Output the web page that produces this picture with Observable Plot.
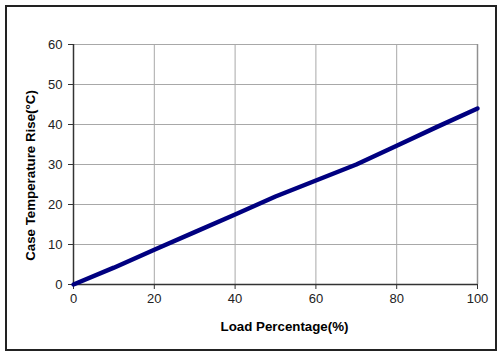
<!DOCTYPE html>
<html><head><meta charset="utf-8">
<script src="https://cdn.jsdelivr.net/npm/d3@7"></script>
<script src="https://cdn.jsdelivr.net/npm/@observablehq/plot@0.6"></script>
<style>
html,body{margin:0;padding:0;background:#fff;}
#wrap{position:relative;width:502px;height:354px;}
#border{position:absolute;left:5px;top:5px;width:492px;height:346px;border:2px solid #222;box-sizing:border-box;}
</style></head>
<body><div id="wrap"><div id="border"></div></div>
<script>
const loadPct = [0, 10, 20, 30, 40, 50, 60, 70, 80, 90, 100];
const tempRise = [0, 4.2, 8.7, 13.1, 17.5, 22, 26, 30, 34.7, 39.4, 44];
const xTicks = [0, 20, 40, 60, 80, 100];
const yTicks = [0, 10, 20, 30, 40, 50, 60];
const data = loadPct.map((x, i) => ({x, y: tempRise[i]}));

const chart = Plot.plot({
  width: 502, height: 354,
  marginLeft: 73, marginRight: 25, marginTop: 44, marginBottom: 70,
  style: {fontFamily: "Liberation Sans, Arial, sans-serif", fontSize: "13px", color: "#222", background: "transparent"},
  x: {domain: [0, 100], ticks: xTicks, label: null},
  y: {domain: [0, 60], ticks: yTicks, label: null},
  marks: [
    Plot.gridX(xTicks, {stroke: "#a8a8a8", strokeOpacity: 1, strokeWidth: 1}),
    Plot.gridY(yTicks, {stroke: "#a8a8a8", strokeOpacity: 1, strokeWidth: 1}),
    Plot.ruleX([100], {stroke: "#909090", strokeWidth: 1.5}),
    Plot.axisX(xTicks, {tickSize: 5, tickPadding: 4, stroke: "#333", fontSize: 13, fill: "#222"}),
    Plot.axisY(yTicks, {tickSize: 5, tickPadding: 6, stroke: "#333", fontSize: 13, fill: "#222"}),
    Plot.ruleX([0], {stroke: "#333", strokeWidth: 1.5}),
    Plot.ruleY([0], {stroke: "#333", strokeWidth: 1.5}),
    Plot.line(data, {x: "x", y: "y", stroke: "#000080", strokeWidth: 4.5, clip: false}),
    Plot.text(["Load Percentage(%)"], {frameAnchor: "bottom", dx: 9, dy: 46, fontWeight: "bold", fontSize: 13.3, fill: "#000"}),
    Plot.text(["Case Temperature Rise(°C)"], {frameAnchor: "left", textAnchor: "middle", dx: -43, dy: 11, rotate: -90, fontWeight: "bold", fontSize: 13.3, fill: "#000"})
  ]
});
document.getElementById("wrap").appendChild(chart);
chart.style.position = "absolute"; chart.style.left = "0"; chart.style.top = "0";
</script>
</body></html>
